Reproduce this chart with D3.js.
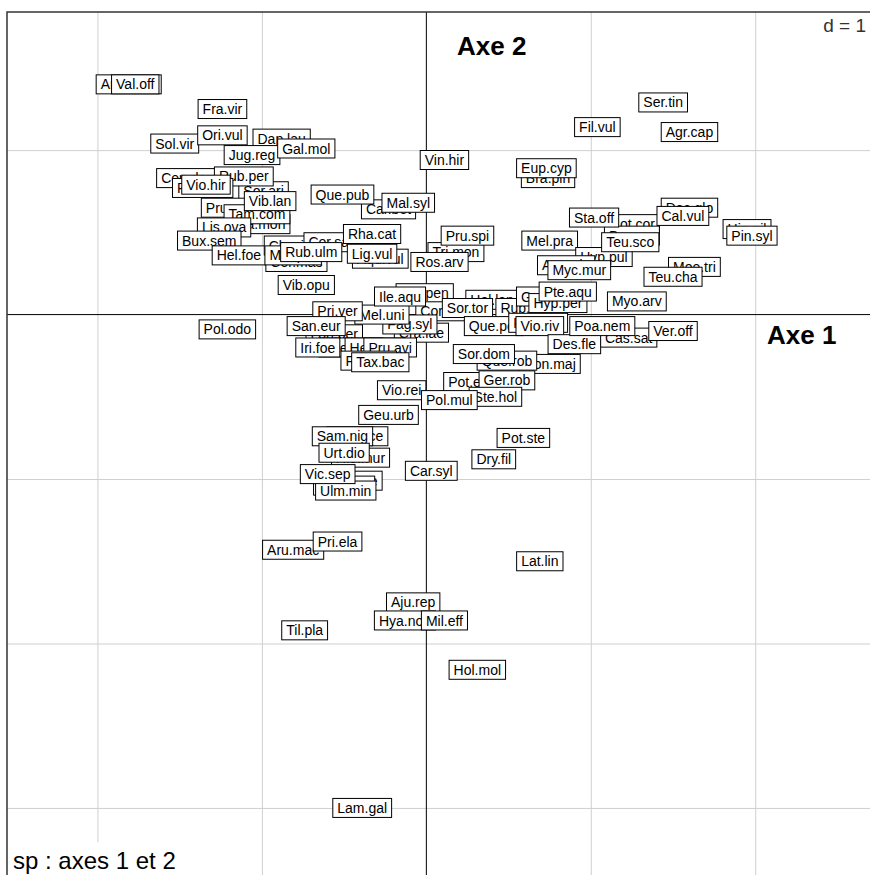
<!DOCTYPE html>
<html>
<head>
<meta charset="utf-8">
<script src="https://d3js.org/d3.v7.min.js"></script>
<style>
  body { margin: 0; background: #fff; }
  text { font-family: "Liberation Sans", Arial, sans-serif; }
</style>
</head>
<body>
<div id="chart"></div>
<script>
// species labels, in drawing order (later ones cover earlier ones)
const labels = [
  "Ane.nem","Val.off","Fra.vir","Sol.vir","Ori.vul","Dap.lau","Jug.reg","Gal.mol",
  "Cep.dam","Sor.ari","Rub.per","Rus.acu","Vio.hir","Pru.mah","Cra.mon","Tam.com",
  "Vib.lan","Lis.ova","Bux.sem","Hel.foe","Cle.vit","Cor.san","Cor.mas","Mer.per",
  "Rub.ulm","Vib.opu","Car.bet","Que.pub","Mal.syl","Vin.hir","Rha.cat","Aqu.vul",
  "Lig.vul","Tri.mon","Pru.spi","Ros.arv","Ste.pen","Cra.lae","Cor.ave","Fag.syl",
  "Mel.uni","Ile.aqu","Pri.ver","Lon.per","San.eur","Ace.cam","Iri.foe","Hed.hel",
  "Pru.avi","Fra.exc","Tax.bac","Pol.odo","Hol.lan","Sor.tor","Rub.fru","Que.pet",
  "Ran.aur","Vio.riv","Cas.sat","Des.fle","Poa.nem","Ver.off","Con.maj","Que.rob",
  "Sor.dom","Pot.ere","Ger.rob","Ste.hol","Vio.rei","Pol.mul","Geu.urb","Oxa.ace",
  "Sam.nig","Hie.mur","Urt.dio","Ace.pse","Sam.rac","Ulm.min","Vic.sep","Car.syl",
  "Dry.fil","Pot.ste","Aru.mac","Pri.ela","Lat.lin","Aju.rep","Hya.non","Mil.eff",
  "Til.pla","Hol.mol","Lam.gal","Ser.tin","Fil.vul","Agr.cap","Bra.pin","Eup.cyp",
  "Lot.cor","Bro.ere","Sta.off","Dac.glo","Cal.vul","Hie.pil","Pin.syl","Mel.pra",
  "Hyp.pul","Teu.sco","Ant.odo","Myc.mur","Moe.tri","Teu.cha","Myo.arv","Gal.sax",
  "Hyp.per","Pte.aqu"
];

// axis 1 scores
const axis1 = [
  -1.81,-1.77,-1.24,-1.53,-1.24,-0.88,-1.06,-0.73,
  -1.44,-0.99,-1.11,-1.36,-1.34,-1.18,-1.02,-1.03,
  -0.95,-1.23,-1.32,-1.14,-0.84,-0.57,-0.79,-0.81,
  -0.70,-0.73,-0.23,-0.51,-0.11, 0.11,-0.33,-0.28,
  -0.33, 0.18, 0.25, 0.08,-0.01,-0.03, 0.11,-0.10,
  -0.27,-0.16,-0.54,-0.56,-0.67,-0.46,-0.66,-0.32,
  -0.22,-0.35,-0.28,-1.21, 0.40, 0.25, 0.59, 0.41,
   0.68, 0.69, 1.23, 0.90, 1.07, 1.50, 0.75, 0.49,
   0.35, 0.27, 0.49, 0.42,-0.15, 0.14,-0.23,-0.42,
  -0.51,-0.40,-0.50,-0.45,-0.50,-0.49,-0.60, 0.03,
   0.41, 0.59,-0.81,-0.54, 0.69,-0.08,-0.13, 0.11,
  -0.74, 0.31,-0.39, 1.44, 1.04, 1.60, 0.74, 0.73,
   1.26, 1.25, 1.02, 1.60, 1.56, 1.95, 1.98, 0.75,
   1.08, 1.24, 0.85, 0.93, 1.63, 1.50, 1.28, 0.72,
   0.80, 0.86
];

// axis 2 scores
const axis2 = [
   1.40, 1.40, 1.25, 1.04, 1.09, 1.07, 0.97, 1.01,
   0.83, 0.75, 0.84, 0.77, 0.79, 0.65, 0.55, 0.61,
   0.69, 0.53, 0.45, 0.36, 0.42, 0.44, 0.32, 0.36,
   0.38, 0.18, 0.64, 0.73, 0.68, 0.94, 0.49, 0.34,
   0.37, 0.38, 0.48, 0.32, 0.13,-0.11, 0.02,-0.06,
   0.00, 0.11, 0.02,-0.12,-0.07,-0.20,-0.20,-0.20,
  -0.20,-0.28,-0.29,-0.09, 0.09, 0.04, 0.04,-0.07,
  -0.05,-0.07,-0.14,-0.18,-0.07,-0.10,-0.30,-0.28,
  -0.24,-0.41,-0.40,-0.50,-0.46,-0.52,-0.61,-0.74,
  -0.74,-0.87,-0.84,-1.01,-1.04,-1.07,-0.97,-0.95,
  -0.88,-0.75,-1.43,-1.38,-1.50,-1.75,-1.86,-1.86,
  -1.92,-2.16,-3.00, 1.29, 1.14, 1.11, 0.83, 0.89,
   0.55, 0.48, 0.59, 0.65, 0.60, 0.52, 0.48, 0.45,
   0.35, 0.44, 0.30, 0.27, 0.29, 0.23, 0.08, 0.11,
   0.07, 0.14
];

const gridX = [-2, -1, 1, 2];
const gridY = [-3, -2, -1, 1];

const width = 870, height = 875;

const svg = d3.select("#chart").append("svg")
  .attr("width", width)
  .attr("height", height);

const x = d3.scaleLinear().domain([-2.55, 2.71]).range([7, 872]);
const y = d3.scaleLinear().domain([1.84, -3.42]).range([12, 877]);

// grid
svg.append("g")
  .attr("transform", "translate(0,12)")
  .call(d3.axisBottom(x).tickValues(gridX).tickSize(865).tickFormat(""))
  .call(g => g.select(".domain").remove())
  .call(g => g.selectAll("line").attr("stroke", "#cfcfcf"));

svg.append("g")
  .attr("transform", "translate(7,0)")
  .call(d3.axisRight(y).tickValues(gridY).tickSize(865).tickFormat(""))
  .call(g => g.select(".domain").remove())
  .call(g => g.selectAll("line").attr("stroke", "#cfcfcf"));

// axes through origin
svg.append("line")
  .attr("x1", x(0)).attr("x2", x(0)).attr("y1", 12).attr("y2", 877)
  .attr("stroke", "#000");
svg.append("line")
  .attr("x1", 7).attr("x2", 872).attr("y1", y(0)).attr("y2", y(0))
  .attr("stroke", "#000");

// axis titles
svg.append("text").attr("x", 457).attr("y", 55)
  .attr("font-size", 26).attr("font-weight", "bold").text("Axe 2");
svg.append("text").attr("x", 767).attr("y", 344)
  .attr("font-size", 26).attr("font-weight", "bold").text("Axe 1");

// labels
const lab = svg.append("g");
labels.forEach((name, i) => {
  const g = lab.append("g");
  const cx = x(axis1[i]), cy = y(axis2[i]);
  const t = g.append("text")
    .attr("x", cx).attr("y", cy)
    .attr("dy", "0.36em")
    .attr("text-anchor", "middle")
    .attr("font-size", 14)
    .attr("fill", "#000")
    .text(name);
  const w = t.node().getComputedTextLength();
  g.insert("rect", "text")
    .attr("x", cx - w / 2 - 4.5).attr("y", cy - 9.5)
    .attr("width", w + 9).attr("height", 19)
    .attr("fill", "#fff").attr("stroke", "#000").attr("stroke-width", 1);
});

// scale text
svg.append("rect").attr("x", 812).attr("y", 13).attr("width", 60).attr("height", 24).attr("fill", "#fff");
svg.append("text").attr("x", 866).attr("y", 32)
  .attr("text-anchor", "end").attr("font-size", 19)
  .attr("fill", "#333").text("d = 1");

// subtitle
svg.append("rect").attr("x", 8).attr("y", 842).attr("width", 192).attr("height", 40).attr("fill", "#fff");
svg.append("text").attr("x", 13).attr("y", 869)
  .attr("font-size", 24).attr("fill", "#000")
  .text("sp : axes 1 et 2");

// frame
svg.append("rect")
  .attr("x", 7).attr("y", 12).attr("width", 865).attr("height", 865)
  .attr("fill", "none").attr("stroke", "#333").attr("stroke-width", 1.5);
</script>
</body>
</html>
